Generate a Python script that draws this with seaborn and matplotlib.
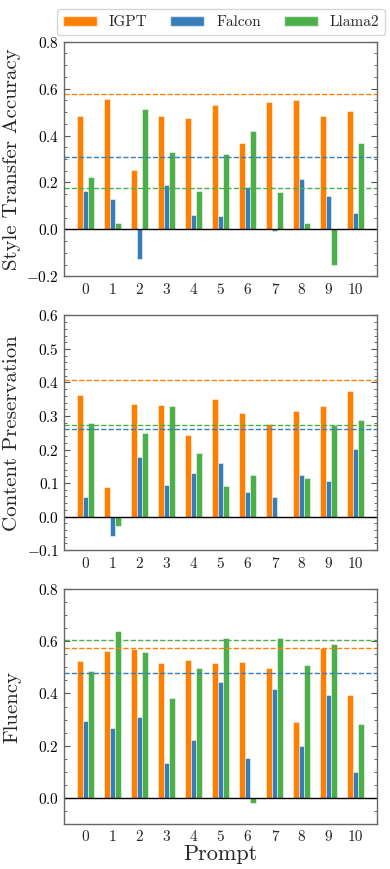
import seaborn as sns
import pandas as pd
import matplotlib.pyplot as plt
from matplotlib.ticker import AutoMinorLocator, MultipleLocator

prompts = list(range(11))
models = ['IGPT', 'Falcon', 'Llama2']
colors = ['#ff7f00', '#377eb8', '#4daf4a']

# style transfer accuracy
sta_igpt = [0.482, 0.554, 0.252, 0.482, 0.473, 0.532, 0.368, 0.545, 0.553, 0.482, 0.504]
sta_falcon = [0.163, 0.131, -0.127, 0.191, 0.063, 0.056, 0.181, -0.007, 0.213, 0.141, 0.068]
sta_llama = [0.224, 0.026, 0.514, 0.331, 0.164, 0.322, 0.419, 0.158, 0.027, -0.153, 0.367]
sta_ref = [0.577, 0.308, 0.178]

# content preservation
cp_igpt = [0.362, 0.089, 0.337, 0.334, 0.242, 0.350, 0.310, 0.276, 0.315, 0.329, 0.376]
cp_falcon = [0.059, -0.057, 0.179, 0.094, 0.129, 0.159, 0.074, 0.057, 0.124, 0.106, 0.202]
cp_llama = [0.278, -0.028, 0.248, 0.331, 0.190, 0.091, 0.123, 0.0, 0.115, 0.272, 0.289]
cp_ref = [0.406, 0.262, 0.272]

# fluency
fl_igpt = [0.523, 0.564, 0.570, 0.516, 0.530, 0.517, 0.522, 0.496, 0.292, 0.575, 0.396]
fl_falcon = [0.294, 0.266, 0.310, 0.132, 0.223, 0.444, 0.152, 0.419, 0.199, 0.395, 0.097]
fl_llama = [0.487, 0.640, 0.560, 0.383, 0.496, 0.612, -0.019, 0.613, 0.509, 0.591, 0.284]
fl_ref = [0.575, 0.479, 0.604]


def to_long(igpt, falcon, llama):
    df = pd.DataFrame({'Prompt': prompts, 'IGPT': igpt, 'Falcon': falcon, 'Llama2': llama})
    return df.melt(id_vars=['Prompt'], var_name='model', value_name='val')


sns.set_style('ticks')
plt.rcParams['font.family'] = 'serif'
plt.rcParams['font.serif'] = ['cmr10', 'DejaVu Serif']
plt.rcParams['mathtext.fontset'] = 'cm'
plt.rcParams['axes.formatter.use_mathtext'] = True
plt.rcParams['axes.unicode_minus'] = True

panels = [
    (to_long(sta_igpt, sta_falcon, sta_llama), sta_ref, 'Style Transfer Accuracy', (-0.2, 0.8), 0.2),
    (to_long(cp_igpt, cp_falcon, cp_llama), cp_ref, 'Content Preservation', (-0.1, 0.6), 0.1),
    (to_long(fl_igpt, fl_falcon, fl_llama), fl_ref, 'Fluency', (-0.1, 0.8), 0.2),
]

fig, axes = plt.subplots(3, 1, figsize=(3.9, 8.69), dpi=100)
fig.subplots_adjust(left=0.164, right=0.967, top=0.952, bottom=0.052, hspace=0.167)

for ax, (data, ref, label, ylim, major) in zip(axes, panels):
    sns.barplot(data=data, x='Prompt', y='val', hue='model', hue_order=models,
                palette=colors, saturation=1, width=0.6, ax=ax,
                edgecolor=(1, 1, 1, 0.6), linewidth=0.6, legend=False)
    for c, r in zip(colors, ref):
        ax.axhline(r, color=c, ls='--', lw=1.0)
    ax.axhline(0, color='black', lw=1.0)
    ax.set_xlim(-0.8, 10.8)
    ax.set_ylim(*ylim)
    ax.yaxis.set_major_locator(MultipleLocator(major))
    ax.yaxis.set_minor_locator(AutoMinorLocator())
    ax.tick_params(axis='y', which='both', direction='in', left=True, right=True,
                   labelsize=11, colors='#555555', labelcolor='black')
    ax.tick_params(axis='y', which='major', length=4)
    ax.tick_params(axis='y', which='minor', length=2)
    ax.tick_params(axis='x', length=0, labelsize=11, pad=5)
    for s in ax.spines.values():
        s.set_color('#666666')
        s.set_linewidth(1.0)
    ax.set_ylabel(label, fontsize=15)
    ax.set_xlabel('')

axes[-1].set_xlabel('Prompt', fontsize=16, labelpad=0)
fig.align_ylabels(axes)

handles = [plt.Rectangle((0, 0), 1, 1, facecolor=c, edgecolor=(1, 1, 1, 0.6)) for c in colors]
fig.legend(handles, models, loc='upper center', bbox_to_anchor=(0.567, 0.998), ncol=3,
           fontsize=11, handlelength=2.2, columnspacing=1.5, frameon=True, fancybox=True)

plt.savefig('out.png', dpi=100)
